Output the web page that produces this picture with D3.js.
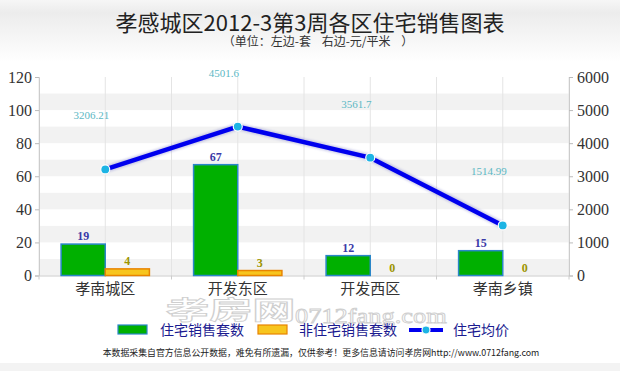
<!DOCTYPE html>
<html>
<head>
<meta charset="utf-8">
<script src="https://cdn.jsdelivr.net/npm/d3@7/dist/d3.min.js"></script>
<style>
  html, body { margin: 0; padding: 0; background: #fff; }
  svg { display: block; }
</style>
</head>
<body>
<div id="chart"></div>
<script>
'use strict';

// data
const districts = ["孝南城区", "开发东区", "开发西区", "孝南乡镇"];
const houseSales = [19, 67, 12, 15];
const otherSales = [4, 3, 0, 0];
const avgPrice = [3206.21, 4501.6, 3561.7, 1514.99];
const leftTicks = [0, 20, 40, 60, 80, 100, 120];
const rightTicks = [0, 1000, 2000, 3000, 4000, 5000, 6000];
const priceLabels = ["3206.21", "4501.6", "3561.7", "1514.99"];

const width = 620, height = 371;
const plot = { left: 39, right: 569, top: 77, bottom: 275.5 };

const serif = "Liberation Serif, DejaVu Serif, serif";
const cjk = "Noto Sans CJK SC, sans-serif";

const svg = d3.select("#chart").append("svg")
  .attr("width", width).attr("height", height);

// background: header gradient + bottom grey strip
const defs = svg.append("defs");
const grad = defs.append("linearGradient").attr("id", "hdr")
  .attr("x1", 0).attr("y1", 0).attr("x2", 0).attr("y2", 1);
grad.append("stop").attr("offset", "0%").attr("stop-color", "#f6f6f6");
grad.append("stop").attr("offset", "20%").attr("stop-color", "#ececec");
grad.append("stop").attr("offset", "100%").attr("stop-color", "#ffffff");
svg.append("rect").attr("x", 0).attr("y", 0).attr("width", width).attr("height", 62)
  .attr("fill", "url(#hdr)");
svg.append("rect").attr("x", 0).attr("y", 363).attr("width", width).attr("height", 8)
  .attr("fill", "#f3f3f3");

const glow = defs.append("filter").attr("id", "glow")
  .attr("x", "-10%").attr("y", "-30%").attr("width", "120%").attr("height", "160%");
glow.append("feGaussianBlur").attr("stdDeviation", 1.2);

// scales
const x = d3.scaleBand().domain(districts).range([plot.left, plot.right]).padding(0);
const yL = d3.scaleLinear().domain([0, 120]).range([plot.bottom, plot.top]);
const yR = d3.scaleLinear().domain([0, 6000]).range([plot.bottom, plot.top]);
const bw = x.bandwidth() / 3;
const cx = d => x(d) + x.bandwidth() / 2;

// grey stripes
const stripes = [0, 20, 40, 60, 80, 100];
svg.append("g").selectAll("rect").data(stripes).join("rect")
  .attr("x", plot.left).attr("width", plot.right - plot.left)
  .attr("y", d => yL(d + 10)).attr("height", d => yL(d) - yL(d + 10))
  .attr("fill", "#f2f2f2");

// vertical grid lines at band centres and edges
const vlines = districts.flatMap(d => [x(d), cx(d)]).concat([plot.right]);
svg.append("g").selectAll("line").data(vlines).join("line")
  .attr("x1", d => d).attr("x2", d => d)
  .attr("y1", plot.top).attr("y2", plot.bottom)
  .attr("stroke", "#e4e4e4").attr("stroke-width", 1);

// axes
const axL = svg.append("g").attr("transform", `translate(${plot.left},0)`)
  .call(d3.axisLeft(yL).tickValues(leftTicks).tickSize(4).tickPadding(3));
const axR = svg.append("g").attr("transform", `translate(${plot.right},0)`)
  .call(d3.axisRight(yR).tickValues(rightTicks).tickFormat(d3.format("d")).tickSize(4).tickPadding(4));
const axB = svg.append("g").attr("transform", `translate(0,${plot.bottom})`)
  .call(d3.axisBottom(x).tickSize(0).tickPadding(8));
[axL, axR].forEach(a => {
  a.attr("font-family", serif).attr("font-size", 16);
  a.select(".domain").attr("stroke", "#cccccc");
  a.selectAll(".tick line").attr("stroke", "#bbbbbb");
  a.selectAll(".tick text").attr("fill", "#333");
});
axB.attr("font-family", cjk).attr("font-size", 15);
axB.select(".domain").attr("stroke", "#cccccc");
axB.selectAll(".tick text").attr("fill", "#333");
// small ticks at band edges on x axis
svg.append("g").selectAll("line").data(districts.map(d => x(d)).concat([plot.right])).join("line")
  .attr("x1", d => d).attr("x2", d => d)
  .attr("y1", plot.bottom).attr("y2", plot.bottom + 4)
  .attr("stroke", "#cccccc");

// bars
svg.append("g").selectAll("rect").data(districts).join("rect")
  .attr("x", d => cx(d) - bw).attr("width", bw)
  .attr("y", (d, i) => yL(houseSales[i]))
  .attr("height", (d, i) => plot.bottom - yL(houseSales[i]))
  .attr("fill", "#00b000").attr("stroke", "#2a86c8").attr("stroke-width", 1.5);

svg.append("g").selectAll("rect").data(districts).join("rect")
  .attr("x", d => cx(d)).attr("width", bw)
  .attr("y", (d, i) => yL(otherSales[i]))
  .attr("height", (d, i) => plot.bottom - yL(otherSales[i]))
  .attr("fill", "#f7c51e").attr("stroke", "#e88400").attr("stroke-width", 1.5)
  .attr("display", (d, i) => otherSales[i] > 0 ? null : "none");

// bar labels
svg.append("g").selectAll("text").data(districts).join("text")
  .attr("x", d => cx(d) - bw / 2)
  .attr("y", (d, i) => yL(houseSales[i]) - 4)
  .attr("text-anchor", "middle")
  .attr("font-family", serif).attr("font-size", 12).attr("font-weight", "bold")
  .attr("fill", "#3a3aa8")
  .text((d, i) => houseSales[i]);

svg.append("g").selectAll("text").data(districts).join("text")
  .attr("x", d => cx(d) + bw / 2)
  .attr("y", (d, i) => yL(otherSales[i]) - 4)
  .attr("text-anchor", "middle")
  .attr("font-family", serif).attr("font-size", 12).attr("font-weight", "bold")
  .attr("fill", "#9c9400")
  .text((d, i) => otherSales[i]);

// price line
const line = d3.line().x(d => cx(d)).y((d, i) => yR(avgPrice[i]));
svg.append("path").datum(districts)
  .attr("d", line).attr("fill", "none")
  .attr("stroke", "#8f8fd0").attr("stroke-width", 7).attr("opacity", 0.45)
  .attr("filter", "url(#glow)");
svg.append("path").datum(districts)
  .attr("d", line).attr("fill", "none")
  .attr("stroke", "#0000ee").attr("stroke-width", 4.5)
  .attr("stroke-linejoin", "round");

svg.append("g").selectAll("circle").data(districts).join("circle")
  .attr("cx", d => cx(d)).attr("cy", (d, i) => yR(avgPrice[i]))
  .attr("r", 4.5)
  .attr("fill", "#1cb4e4").attr("stroke", "#fff").attr("stroke-width", 1.2);

svg.append("g").selectAll("text").data(districts).join("text")
  .attr("x", d => cx(d) - 14)
  .attr("y", (d, i) => yR(avgPrice[i]) - 50)
  .attr("text-anchor", "middle")
  .attr("font-family", serif).attr("font-size", 11)
  .attr("fill", "#5cb8c4")
  .text((d, i) => priceLabels[i]);

// titles
svg.append("text").attr("x", 310).attr("y", 31).attr("text-anchor", "middle")
  .attr("font-family", cjk).attr("font-size", 22).attr("fill", "#222")
  .text("孝感城区2012-3第3周各区住宅销售图表");
svg.append("text").attr("x", 318).attr("y", 46).attr("text-anchor", "middle")
  .attr("font-family", cjk).attr("font-size", 12).attr("fill", "#333")
  .attr("xml:space", "preserve")
  .text("（单位：左边-套    右边-元/平米    ）");

// watermark (faint outlined text, as in the source image)
const wm = svg.append("g").attr("fill", "#ffffff").attr("fill-opacity", 0.55)
  .attr("stroke", "#cfcfcf").attr("stroke-width", 0.9);
wm.append("text").attr("transform", "translate(166,319) scale(1.6,0.92)")
  .attr("font-family", cjk).attr("font-size", 27).attr("font-weight", "bold")
  .text("孝房网");
wm.append("text").attr("transform", "translate(295,323) scale(1.2,1)")
  .attr("font-family", serif).attr("font-size", 22)
  .text("0712fang.com");

// legend
const lg = svg.append("g");
lg.append("rect").attr("x", 118).attr("y", 325).attr("width", 29).attr("height", 9)
  .attr("fill", "#00b000").attr("stroke", "#2a86c8").attr("stroke-width", 1.2);
lg.append("rect").attr("x", 258).attr("y", 325).attr("width", 29).attr("height", 9)
  .attr("fill", "#f7c51e").attr("stroke", "#e88400").attr("stroke-width", 1.2);
lg.append("line").attr("x1", 409).attr("x2", 443).attr("y1", 330).attr("y2", 330)
  .attr("stroke", "#0000ee").attr("stroke-width", 4);
lg.append("circle").attr("cx", 426).attr("cy", 330).attr("r", 4)
  .attr("fill", "#1cb4e4").attr("stroke", "#fff").attr("stroke-width", 1.2);
const legendText = [
  { x: 160, t: "住宅销售套数" },
  { x: 299, t: "非住宅销售套数" },
  { x: 453, t: "住宅均价" }
];
lg.selectAll("text").data(legendText).join("text")
  .attr("x", d => d.x).attr("y", 335)
  .attr("font-family", cjk).attr("font-size", 14).attr("fill", "#1a1a90")
  .text(d => d.t);

// footnote
svg.append("text").attr("x", 321).attr("y", 356).attr("text-anchor", "middle")
  .attr("font-family", cjk).attr("font-size", 8.9).attr("fill", "#222")
  .text("本数据采集自官方信息公开数据，难免有所遗漏，仅供参考！更多信息请访问孝房网http://www.0712fang.com");
</script>
</body>
</html>
